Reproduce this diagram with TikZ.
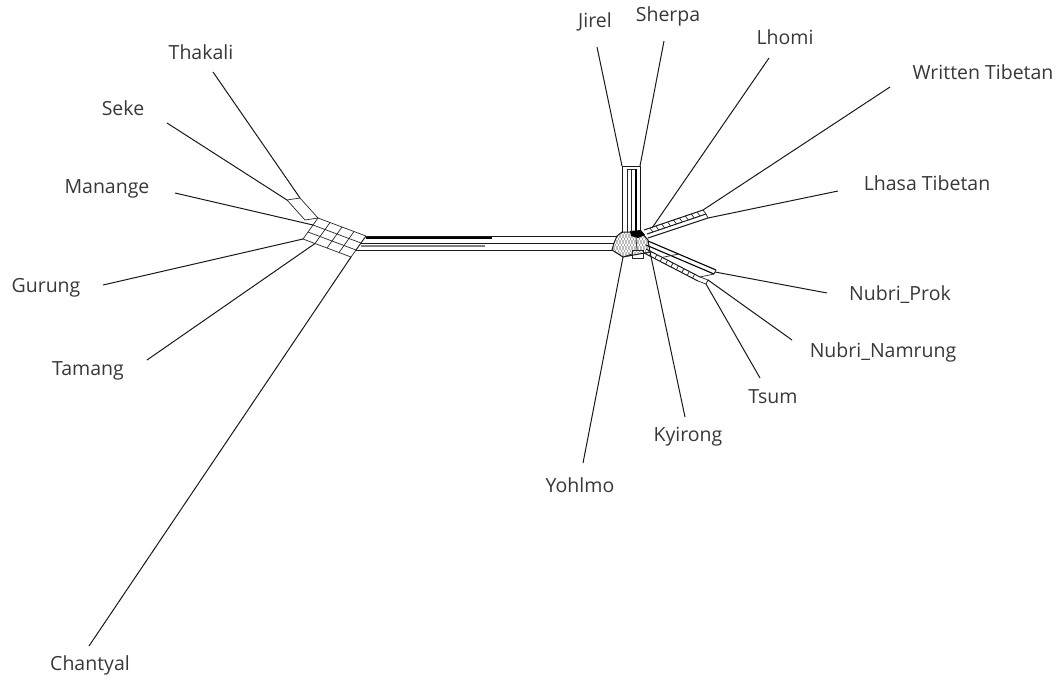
\documentclass[tikz,border=0pt]{standalone}
\usepackage{fontspec}
\setmainfont{Open Sans}
\usetikzlibrary{calc}
\begin{document}
\begin{tikzpicture}[
    x=1pt, y=-1pt,
    taxon/.style ={font=\fontsize{19.5}{22}\selectfont, text=black!78, inner sep=0pt},
    split/.style ={draw=black!90, line width=1pt},
    fine/.style  ={draw=black!85, line width=0.7pt},
    heavy/.style ={draw=black, line width=1.6pt},
    greybar/.style={draw=black!50, line width=1.4pt},
    mesh/.style  ={draw=black!50, line width=0.4pt}
  ]
  \useasboundingbox (0,0) rectangle (1059,683);

  % taxa
  \node[taxon] (thakali) at (201,52)  {Thakali};
  \node[taxon] (seke)    at (123,108) {Seke};
  \node[taxon] (manange) at (107,189) {Manange};
  \node[taxon] (gurung)  at (46,288)  {Gurung};
  \node[taxon] (tamang)  at (88,371)  {Tamang};
  \node[taxon] (chantyal) at (90,665) {Chantyal};
  \node[taxon] (jirel)   at (595,22)  {Jirel};
  \node[taxon] (sherpa)  at (668,16)  {Sherpa};
  \node[taxon] (lhomi)   at (785,37)  {Lhomi};
  \node[taxon] (wtibetan) at (983,72) {Written Tibetan};
  \node[taxon] (ltibetan) at (927,183) {Lhasa Tibetan};
  \node[taxon] (prok)    at (900,295) {Nubri\_Prok};
  \node[taxon] (namrung) at (883,352) {Nubri\_Namrung};
  \node[taxon] (tsum)    at (773,397) {Tsum};
  \node[taxon] (kyirong) at (688,437) {Kyirong};
  \node[taxon] (yohlmo)  at (580,485) {Yohlmo};

  % free ends of the pendant edges
  \coordinate (thakali-tip)  at (213,72);
  \coordinate (seke-tip)     at (167,123);
  \coordinate (manange-tip)  at (175,193);
  \coordinate (gurung-tip)   at (103,285);
  \coordinate (tamang-tip)   at (147,360);
  \coordinate (chantyal-tip) at (89,646);
  \coordinate (jirel-tip)    at (597,47);
  \coordinate (sherpa-tip)   at (664,41);
  \coordinate (lhomi-tip)    at (769,58);
  \coordinate (wtibetan-tip) at (890,87);
  \coordinate (ltibetan-tip) at (838,191);
  \coordinate (prok-tip)     at (827,293);
  \coordinate (namrung-tip)  at (792,340);
  \coordinate (tsum-tip)     at (760,378);
  \coordinate (kyirong-tip)  at (685,417);
  \coordinate (yohlmo-tip)   at (583,463);

  % left hub: grid of parallel splits
  \foreach \row in {0,...,3}
    \foreach \col in {0,...,4}
      \coordinate (L\row\col) at ($(318,218)+\row*(-5,7)+\col*(12,4.5)$);
  \foreach \row in {0,...,3}
    \draw[fine] (L\row0) -- (L\row4);
  \foreach \col in {0,...,4}
    \draw[fine] (L0\col) -- (L3\col);
  \coordinate (Q1) at (300,198);
  \coordinate (Q2) at (287,200);
  \coordinate (Q3) at (305,220);
  \draw[fine] (Q1) -- (Q2) -- (Q3) -- (L00) -- cycle;

  % right hub
  \coordinate (R1) at (617,236);
  \coordinate (R2) at (622,232);
  \coordinate (R3) at (641,232);
  \coordinate (R4) at (648,240);
  \coordinate (R5) at (650,252);
  \coordinate (R6) at (623,257);
  \coordinate (R7) at (612,250);
  \coordinate (R8) at (614,243);
  \begin{scope}
    \clip (R1) -- (R2) -- (R3) -- (R4) -- (R5) -- (R6) -- (R7) -- (R8) -- cycle;
    \foreach \k in {0,3,...,51}
      \draw[mesh] (595+\k,228) -- ++(16,32);
    \foreach \k in {0,3,...,51}
      \draw[mesh] (612+\k,228) -- ++(-16,32);
  \end{scope}
  \draw[split] (R1) -- (R2) -- (R3) -- (R4) -- (R5) -- (R6) -- (R7) -- (R8) -- cycle;
  \fill[black] (630,231) -- (641,230) -- (645,235) -- (638,238) -- (631,236) -- cycle;
  \draw[fine] (632,250) rectangle (643,258);
  \draw[fine] (636,238) -- (637,250) (623,257) -- (632,254) (643,254) -- (650,252);

  % long bar between the two groups
  \draw[split] (L04) -- (R1);
  \draw[heavy] ($(L04)+(0,2)$) -- (492,238);
  \draw[split] (L14) -- (R8);
  \draw[greybar] (361,246) -- (485,246);
  \draw[split] (L24) -- (R7);
  \draw[fine] (L04) -- (L24);

  % Jirel / Sherpa band
  \coordinate (J0) at (622,166);
  \coordinate (S0) at (640,166);
  \draw[split] (J0) -- (S0);
  \draw[fine] (627,169) -- (636,169);
  \draw[split] (J0) -- (622,233);
  \draw[fine] (627,169) -- (627,232);
  \draw[fine] (631,169) -- (631,232);
  \draw[heavy] (636,169) -- (636,232);
  \draw[split] (S0) -- (640,232);

  % ladder towards the Tibetan pair
  \coordinate (A1) at (644,230);
  \coordinate (A2) at (703,210);
  \coordinate (B1) at (647,234);
  \coordinate (B2) at (706,214);
  \coordinate (C1) at (648,238);
  \coordinate (C2) at (708,218);
  \draw[split] (A1) -- (A2) (B1) -- (B2) (C1) -- (C2);
  \draw[fine] (A2) -- (B2) -- (C2);
  \foreach \t in {0.1,0.2,...,0.95}
    \draw[fine] ($(A1)!\t!(A2)$) -- ($(B1)!\t!(B2)$);

  % ladders towards the Nubri group
  \coordinate (M1) at (648,241);
  \coordinate (M2) at (716,270);
  \coordinate (N1) at (646,245);
  \coordinate (N2) at (714,274);
  \draw[heavy, line width=1.1pt] (M1) -- (M2) (N1) -- (N2);
  \draw[fine] (M2) -- (N2);
  \coordinate (P1) at (646,249);
  \coordinate (P2) at (700,277);
  \coordinate (U1) at (644,253);
  \coordinate (U2) at (698,281);
  \draw[split] (P1) -- (P2) (U1) -- (U2);
  \foreach \t in {0.1,0.2,...,0.95}
    \draw[fine] ($(P1)!\t!(P2)$) -- ($(U1)!\t!(U2)$);
  \coordinate (V1) at (708,280);
  \coordinate (V2) at (706,284);
  \draw[fine] (P2) -- (V1) -- (V2) -- (U2);
  \draw[fine] (P2) -- (N2);
  \draw[fine] ($(P1)!0.3!(P2)$) -- ($(M1)!0.45!(M2)$);

  % pendant edges
  \draw[split] (thakali-tip) -- (Q1);
  \draw[split] (seke-tip) -- (Q2);
  \draw[split] (manange-tip) -- (L10);
  \draw[split] (gurung-tip) -- (L30);
  \draw[split] (tamang-tip) -- (L31);
  \draw[split] (chantyal-tip) -- (L34);
  \draw[split] (jirel-tip) -- (J0);
  \draw[split] (sherpa-tip) -- (S0);
  \draw[split] (lhomi-tip) -- (652,228);
  \draw[split] (wtibetan-tip) -- (A2);
  \draw[split] (ltibetan-tip) -- (C2);
  \draw[split] (prok-tip) -- ($(M2)!0.5!(N2)$);
  \draw[split] (namrung-tip) -- (V1);
  \draw[split] (tsum-tip) -- (V2);
  \draw[split] (kyirong-tip) -- (R5);
  \draw[split] (yohlmo-tip) -- (R6);
\end{tikzpicture}
\end{document}
